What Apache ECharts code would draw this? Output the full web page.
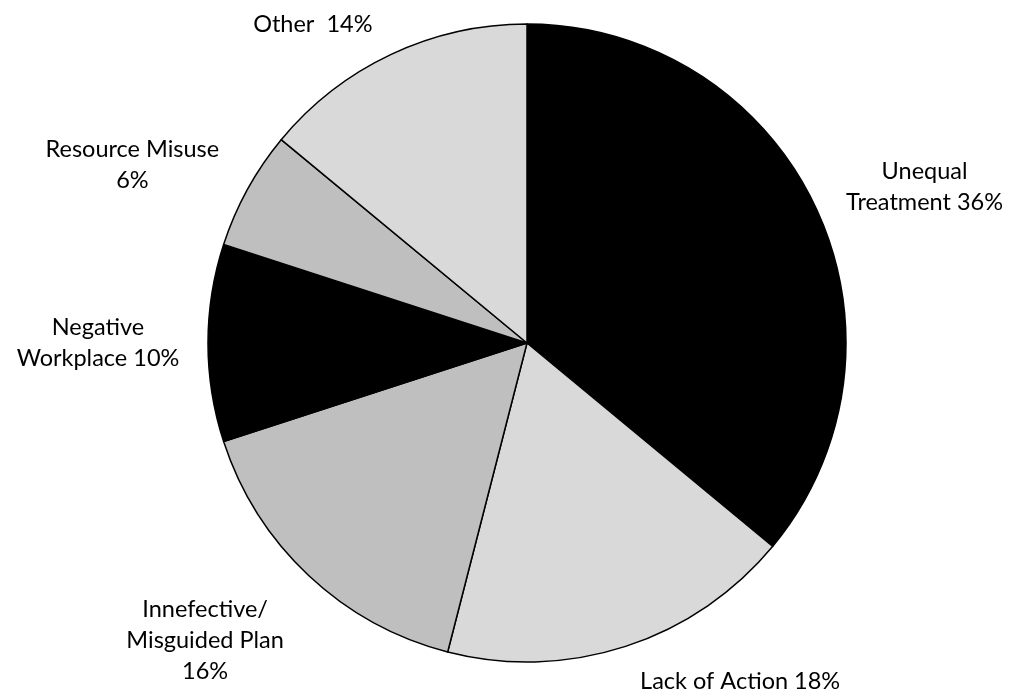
<!DOCTYPE html>
<html>
<head>
<meta charset="utf-8">
<script src="https://cdn.jsdelivr.net/npm/echarts@6/dist/echarts.min.js"></script>
<style>
html,body{margin:0;padding:0;background:#fff;}
#c{width:1021px;height:692px;}
</style>
</head>
<body>
<div id="c"></div>
<script>
// Data
const categories = ['Unequal Treatment', 'Lack of Action', 'Innefective/Misguided Plan', 'Negative Workplace', 'Resource Misuse', 'Other'];
const values = [36, 18, 16, 10, 6, 14];
const labelTexts = ['Unequal\nTreatment 36%', 'Lack of Action 18%', 'Innefective/\nMisguided Plan\n16%', 'Negative\nWorkplace 10%', 'Resource Misuse\n6%', 'Other  14%'];

// Style
const colors = ['#000000', '#d9d9d9', '#bfbfbf', '#000000', '#bfbfbf', '#d9d9d9'];
const labelAngle = [68.6, 147.8, 227.3, 270, 294.3, 326.1]; // degrees clockwise from top
const labelDist = [427, 400, 438, 429, 433, 384];
const CX = 527, CY = 343, R = 319;

const chart = echarts.init(document.getElementById('c'));
chart.setOption({
  animation: false,
  backgroundColor: '#ffffff',
  series: [{
    type: 'pie',
    center: [CX, CY],
    radius: [0, R],
    startAngle: 90,
    clockwise: true,
    avoidLabelOverlap: false,
    itemStyle: { borderColor: '#000', borderWidth: 1.5 },
    label: {
      show: true,
      position: 'outside',
      fontFamily: 'Lato, "Open Sans", sans-serif',
      fontSize: 23.5,
      lineHeight: 31,
      color: '#000',
      align: 'center',
      formatter: p => labelTexts[p.dataIndex]
    },
    labelLine: { show: false },
    labelLayout: function (p) {
      const i = p.dataIndex;
      const a = labelAngle[i] * Math.PI / 180;
      return {
        x: CX + labelDist[i] * Math.sin(a),
        y: CY - labelDist[i] * Math.cos(a),
        align: 'center',
        verticalAlign: 'middle'
      };
    },
    emphasis: { disabled: true },
    data: categories.map((c, i) => ({ name: c, value: values[i], itemStyle: { color: colors[i] } }))
  }]
});
</script>
</body>
</html>
